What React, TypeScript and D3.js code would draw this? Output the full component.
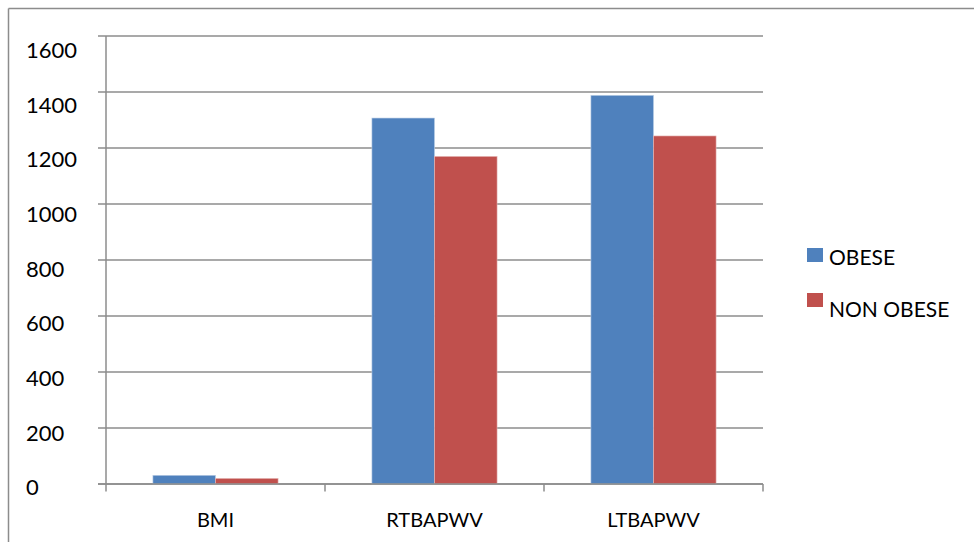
import React from "react";
import * as d3 from "d3";

const categories = ["BMI", "RTBAPWV", "LTBAPWV"];
const seriesNames = ["OBESE", "NON OBESE"];
const obese = [31, 1307, 1388];
const nonObese = [20, 1170, 1243];
const yTicks = [0, 200, 400, 600, 800, 1000, 1200, 1400, 1600];
const colors = ["#4F81BD", "#C0504D"];

export default function App() {
  const W = 974, H = 542;
  const left = 106, right = 763, top = 36, bottom = 484;
  const x = d3.scaleBand<string>().domain(categories).range([left, right]).paddingInner(0).paddingOuter(0);
  const y = d3.scaleLinear().domain([0, 1600]).range([bottom, top]);
  const yLabel = d3.scaleLinear().domain([0, 1600]).range([487.5, 50]);
  const bw = x.bandwidth();
  const barW = bw / 3.5;
  const series = [obese, nonObese];
  const font = "Lato, 'Open Sans', sans-serif";
  const gridColor = "#8c8c8c";

  return (
    <svg width={W} height={H} style={{ position: "absolute", left: 0, top: 0 }}>
      <rect x={0} y={0} width={W} height={H} fill="#fff" />
      <line x1={8.5} y1={8.5} x2={W} y2={8.5} stroke={gridColor} strokeWidth={1.5} />
      <line x1={8.5} y1={8.5} x2={8.5} y2={H} stroke={gridColor} strokeWidth={1.5} />
      {yTicks.map((t) => (
        <line key={"g" + t} x1={98} x2={right} y1={y(t)} y2={y(t)} stroke={gridColor} strokeWidth={1.5} />
      ))}
      <line x1={left} x2={left} y1={top} y2={bottom + 7.5} stroke={gridColor} strokeWidth={1.5} />
      {categories.map((c, i) => (
        <line key={"t" + i} x1={x(c)! + bw} x2={x(c)! + bw} y1={bottom} y2={bottom + 7.5} stroke={gridColor} strokeWidth={1.5} />
      ))}
      {categories.map((c, i) =>
        series.map((s, j) => {
          const bx = x(c)! + (bw - 2 * barW) / 2 + j * barW;
          return (
            <rect
              key={c + j}
              x={bx}
              y={y(s[i])}
              width={barW}
              height={bottom - y(s[i])}
              fill={colors[j]}
              stroke={j === 0 ? "#b9cde5" : "#e6b9b8"}
              strokeWidth={0.6}
            />
          );
        })
      )}
      <line x1={98} x2={right} y1={bottom} y2={bottom} stroke={gridColor} strokeWidth={1.5} />
      {yTicks.map((t) => (
        <text key={"l" + t} x={26} y={yLabel(t)} dy="0.36em" fontFamily={font} fontSize={22} fill="#000">
          {t}
        </text>
      ))}
      {categories.map((c) => (
        <text key={"c" + c} x={x(c)! + bw / 2} y={527} textAnchor="middle" fontFamily={font} fontSize={20} fill="#000">
          {c}
        </text>
      ))}
      <rect x={807} y={248} width={16} height={14} fill={colors[0]} />
      <text x={829} y={265} fontFamily={font} fontSize={21} fill="#000">{seriesNames[0]}</text>
      <rect x={807} y={293} width={16} height={14} fill={colors[1]} />
      <text x={829} y={317} fontFamily={font} fontSize={21} fill="#000">{seriesNames[1]}</text>
    </svg>
  );
}
